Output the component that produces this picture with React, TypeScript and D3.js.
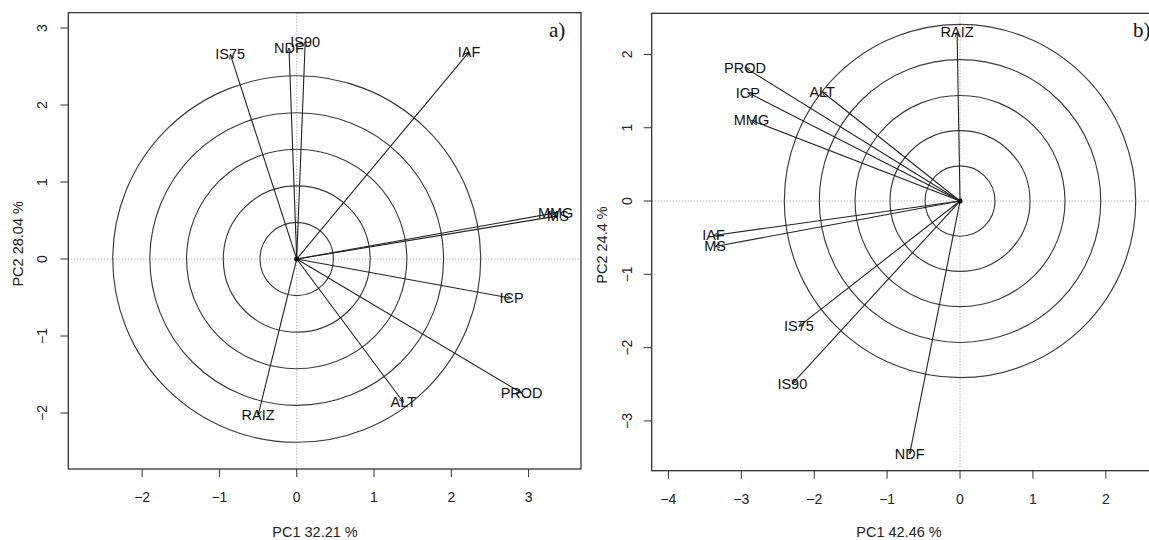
import React from "react";
import * as d3 from "d3";

// ---- Data (panel a) ----
const leftVars = ["IS75", "NDF", "IS90", "IAF", "MMG", "MS", "ICP", "PROD", "ALT", "RAIZ"];
const leftPC1 = [-0.86, -0.1, 0.11, 2.23, 3.35, 3.38, 2.78, 2.91, 1.38, -0.5];
const leftPC2 = [2.66, 2.74, 2.82, 2.69, 0.6, 0.56, -0.51, -1.74, -1.86, -2.03];
const leftRadii = [0.475, 0.95, 1.425, 1.9, 2.38];
const leftXTicks = [-2, -1, 0, 1, 2, 3];
const leftYTicks = [-2, -1, 0, 1, 2, 3];
const leftXTitle = "PC1 32.21 %";
const leftYTitle = "PC2 28.04 %";
const leftTag = "a)";

// ---- Data (panel b) ----
const rightVars = ["RAIZ", "PROD", "ICP", "ALT", "MMG", "IAF", "MS", "IS75", "IS90", "NDF"];
const rightPC1 = [-0.04, -2.95, -2.91, -1.89, -2.86, -3.38, -3.36, -2.21, -2.3, -0.69];
const rightPC2 = [2.3, 1.82, 1.48, 1.49, 1.1, -0.47, -0.62, -1.71, -2.49, -3.45];
const rightRadii = [0.48, 0.96, 1.44, 1.93, 2.41];
const rightXTicks = [-4, -3, -2, -1, 0, 1, 2];
const rightYTicks = [-3, -2, -1, 0, 1, 2];
const rightXTitle = "PC1 42.46 %";
const rightYTitle = "PC2 24.4 %";
const rightTag = "b)";

const FONT = "'Liberation Sans', Arial, sans-serif";
const fmt = (v: number) => (v < 0 ? "\u2212" + Math.abs(v) : String(v));

type PanelProps = {
  id: string;
  vars: string[];
  pc1: number[];
  pc2: number[];
  radii: number[];
  xTicks: number[];
  yTicks: number[];
  xTitle: string;
  yTitle: string;
  tag: string;
  xDomain: [number, number];
  yDomain: [number, number];
  left: number;
  right: number;
  top: number;
  bottom: number;
  yTickLabelX: number;
  yTitleX: number;
  xTitleX: number;
  tagX: number;
};

function Panel(p: PanelProps) {
  const x = d3.scaleLinear().domain(p.xDomain).range([p.left, p.right]);
  const y = d3.scaleLinear().domain(p.yDomain).range([p.bottom, p.top]);
  const cx = x(0);
  const cy = y(0);
  const tickCol = "#333";
  return (
    <g>
      <defs>
        <clipPath id={`clip-${p.id}`}>
          <rect x={p.left} y={p.top} width={p.right - p.left} height={p.bottom - p.top} />
        </clipPath>
        <marker id={`arr-${p.id}`} viewBox="0 0 10 10" refX="9" refY="5" markerWidth="5" markerHeight="5" orient="auto">
          <path d="M0,1 L9,5 L0,9" fill="none" stroke="#222" strokeWidth="1.5" />
        </marker>
      </defs>
      <g clipPath={`url(#clip-${p.id})`}>
        <line x1={p.left} x2={p.right} y1={cy} y2={cy} stroke="#9a9a9a" strokeDasharray="1,2" />
        <line x1={cx} x2={cx} y1={p.top} y2={p.bottom} stroke="#9a9a9a" strokeDasharray="1,2" />
        {p.radii.map((r, i) => (
          <ellipse key={i} cx={cx} cy={cy} rx={x(r) - cx} ry={cy - y(r)} fill="none" stroke="#3a3a3a" strokeWidth={1.15} />
        ))}
        {p.vars.map((v, i) => (
          <line key={v} x1={cx} y1={cy} x2={x(p.pc1[i])} y2={y(p.pc2[i])} stroke="#222" strokeWidth={1.1}
            markerEnd={`url(#arr-${p.id})`} />
        ))}
        <circle cx={cx} cy={cy} r={2.5} fill="#000" />
        {p.vars.map((v, i) => (
          <text key={v} x={x(p.pc1[i])} y={y(p.pc2[i])} textAnchor="middle" dominantBaseline="central"
            fontFamily={FONT} fontSize={14.5} fill="#111">{v}</text>
        ))}
        <text x={p.tagX} y={p.top + 24} fontFamily="'Liberation Serif', 'Times New Roman', serif" fontSize={21} fill="#111">{p.tag}</text>
      </g>
      <rect x={p.left} y={p.top} width={p.right - p.left} height={p.bottom - p.top} fill="none" stroke="#333" strokeWidth={1.3} />
      {p.xTicks.map((t) => (
        <g key={`x${t}`}>
          <line x1={x(t)} x2={x(t)} y1={p.bottom} y2={p.bottom + 8} stroke={tickCol} />
          <text x={x(t)} y={p.bottom + 28} textAnchor="middle" dominantBaseline="central" fontFamily={FONT} fontSize={14} fill="#222">{fmt(t)}</text>
        </g>
      ))}
      {p.yTicks.map((t) => (
        <g key={`y${t}`}>
          <line x1={p.left - 8} x2={p.left} y1={y(t)} y2={y(t)} stroke={tickCol} />
          <text transform={`translate(${p.yTickLabelX},${y(t)}) rotate(-90)`} textAnchor="middle" dominantBaseline="central"
            fontFamily={FONT} fontSize={14} fill="#222">{fmt(t)}</text>
        </g>
      ))}
      <text x={p.xTitleX} y={532} textAnchor="middle" dominantBaseline="central" fontFamily={FONT} fontSize={14.5} fill="#222">{p.xTitle}</text>
      <text transform={`translate(${p.yTitleX},${(p.top + p.bottom) / 2 + 3}) rotate(-90)`} textAnchor="middle" dominantBaseline="central"
        fontFamily={FONT} fontSize={14.5} fill="#222">{p.yTitle}</text>
    </g>
  );
}

export default function App() {
  return (
    <svg width={1149} height={540} style={{ position: "absolute", left: 0, top: 0, background: "#fff" }}>
      <rect x={0} y={0} width={1149} height={540} fill="#fff" />
      <Panel id="a" vars={leftVars} pc1={leftPC1} pc2={leftPC2} radii={leftRadii}
        xTicks={leftXTicks} yTicks={leftYTicks} xTitle={leftXTitle} yTitle={leftYTitle} tag={leftTag}
        xDomain={[-2.955, 3.678]} yDomain={[-2.727, 3.199]}
        left={68.3} right={581} top={12.7} bottom={469}
        yTickLabelX={41.5} yTitleX={18} xTitleX={315} tagX={549} />
      <Panel id="b" vars={rightVars} pc1={rightPC1} pc2={rightPC2} radii={rightRadii}
        xTicks={rightXTicks} yTicks={rightYTicks} xTitle={rightXTitle} yTitle={rightYTitle} tag={rightTag}
        xDomain={[-4.229, 2.743]} yDomain={[-3.679, 2.561]}
        left={651.7} right={1160} top={13.3} bottom={470.7}
        yTickLabelX={626.5} yTitleX={601.5} xTitleX={899} tagX={1133} />
    </svg>
  );
}
